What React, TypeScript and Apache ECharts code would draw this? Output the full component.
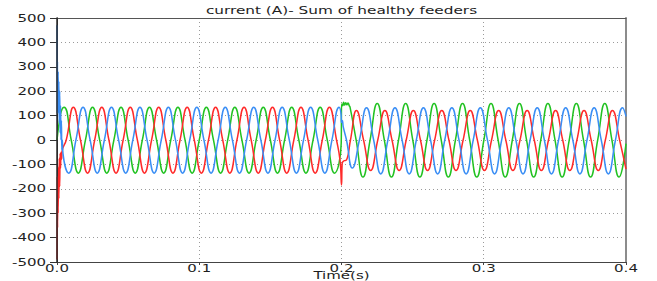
import React, { useEffect, useRef } from 'react';
import * as echarts from 'echarts';

const titleText = 'current (A)- Sum of healthy feeders';
const xAxisName = 'Time(s)';
const yTicks = [-500, -400, -300, -200, -100, 0, 100, 200, 300, 400, 500];
const xTicks = [0, 0.1, 0.2, 0.3, 0.4];

const redData = [
  [0, -490], [0.0002, -150], [0.0004, -360], [0.0006, -160], [0.0008, -300], [0.0011, -110], [0.0013, -240],
  [0.0016, -75], [0.0019, -190], [0.0022, -55], [0.0025, -115], [0.0028, -50], [0.0032, -80], [0.0036, -45],
  [0.0065, 0], [0.0115, 134], [0.0165, 0], [0.0215, -136],
  [0.0265, 0], [0.0315, 134], [0.0365, 0], [0.0415, -136],
  [0.0465, 0], [0.0515, 134], [0.0565, 0], [0.0615, -136],
  [0.0665, 0], [0.0715, 134], [0.0765, 0], [0.0815, -136],
  [0.0865, 0], [0.0915, 134], [0.0965, 0], [0.1015, -136],
  [0.1065, 0], [0.1115, 134], [0.1165, 0], [0.1215, -136],
  [0.1265, 0], [0.1315, 134], [0.1365, 0], [0.1415, -136],
  [0.1465, 0], [0.1515, 134], [0.1565, 0], [0.1615, -136],
  [0.1665, 0], [0.1715, 134], [0.1765, 0], [0.1815, -136],
  [0.1865, 0], [0.1915, 134], [0.1965, 0],
  [0.199, -85], [0.2, -184], [0.2005, -95], [0.2018, -85], [0.2035, -82],
  [0.2063, 0], [0.2105, 121], [0.2155, 0], [0.2205, -125],
  [0.2255, 0], [0.2305, 121], [0.2355, 0], [0.2405, -125],
  [0.2455, 0], [0.2505, 121], [0.2555, 0], [0.2605, -125],
  [0.2655, 0], [0.2705, 121], [0.2755, 0], [0.2805, -125],
  [0.2855, 0], [0.2905, 121], [0.2955, 0], [0.3005, -125],
  [0.3055, 0], [0.3105, 121], [0.3155, 0], [0.3205, -125],
  [0.3255, 0], [0.3305, 121], [0.3355, 0], [0.3405, -125],
  [0.3455, 0], [0.3505, 121], [0.3555, 0], [0.3605, -125],
  [0.3655, 0], [0.3705, 121], [0.3755, 0], [0.3805, -125],
  [0.3855, 0], [0.3905, 121], [0.3955, 0], [0.4, -119],
];

const greenData = [
  [0, 0], [0.0015, 70], [0.003, 118], [0.005, 134], [0.01, 0], [0.015, -136],
  [0.02, 0], [0.025, 134], [0.03, 0], [0.035, -136],
  [0.04, 0], [0.045, 134], [0.05, 0], [0.055, -136],
  [0.06, 0], [0.065, 134], [0.07, 0], [0.075, -136],
  [0.08, 0], [0.085, 134], [0.09, 0], [0.095, -136],
  [0.1, 0], [0.105, 134], [0.11, 0], [0.115, -136],
  [0.12, 0], [0.125, 134], [0.13, 0], [0.135, -136],
  [0.14, 0], [0.145, 134], [0.15, 0], [0.155, -136],
  [0.16, 0], [0.165, 134], [0.17, 0], [0.175, -136],
  [0.18, 0], [0.185, 134], [0.19, 0], [0.195, -136],
  [0.1998, -12], [0.2001, 148], [0.2008, 140], [0.2015, 155], [0.2022, 143], [0.203, 153],
  [0.2038, 144], [0.2046, 152], [0.2054, 141], [0.206, 135],
  [0.2103, 0], [0.2151, -152], [0.2201, 0], [0.2251, 150],
  [0.2301, 0], [0.2351, -152], [0.2401, 0], [0.2451, 150],
  [0.2501, 0], [0.2551, -152], [0.2601, 0], [0.2651, 150],
  [0.2701, 0], [0.2751, -152], [0.2801, 0], [0.2851, 150],
  [0.2901, 0], [0.2951, -152], [0.3001, 0], [0.3051, 150],
  [0.3101, 0], [0.3151, -152], [0.3201, 0], [0.3251, 150],
  [0.3301, 0], [0.3351, -152], [0.3401, 0], [0.3451, 150],
  [0.3501, 0], [0.3551, -152], [0.3601, 0], [0.3651, 150],
  [0.3701, 0], [0.3751, -152], [0.3801, 0], [0.3851, 150],
  [0.3901, 0], [0.3951, -152], [0.4, -15],
];

const blueData = [
  [0, 470], [0.0002, 110], [0.0003, 320], [0.0006, 130], [0.0008, 280], [0.0011, 110], [0.0013, 240],
  [0.0016, 70], [0.0019, 200], [0.0022, 30], [0.0025, 140], [0.0028, 0], [0.0031, 80], [0.0034, -40],
  [0.0037, 0], [0.0042, -55],
  [0.0083, -136], [0.0133, 0], [0.0183, 134], [0.0233, 0],
  [0.0283, -136], [0.0333, 0], [0.0383, 134], [0.0433, 0],
  [0.0483, -136], [0.0533, 0], [0.0583, 134], [0.0633, 0],
  [0.0683, -136], [0.0733, 0], [0.0783, 134], [0.0833, 0],
  [0.0883, -136], [0.0933, 0], [0.0983, 134], [0.1033, 0],
  [0.1083, -136], [0.1133, 0], [0.1183, 134], [0.1233, 0],
  [0.1283, -136], [0.1333, 0], [0.1383, 134], [0.1433, 0],
  [0.1483, -136], [0.1533, 0], [0.1583, 134], [0.1633, 0],
  [0.1683, -136], [0.1733, 0], [0.1783, 134], [0.1833, 0],
  [0.1883, -136], [0.1933, 0], [0.1983, 134],
  [0.1997, 105], [0.2, 72], [0.2006, 80], [0.2012, 55], [0.2035, 0], [0.2076, -115],
  [0.2126, 0], [0.2176, 132], [0.2226, 0],
  [0.2276, -139], [0.2326, 0], [0.2376, 132], [0.2426, 0],
  [0.2476, -139], [0.2526, 0], [0.2576, 132], [0.2626, 0],
  [0.2676, -139], [0.2726, 0], [0.2776, 132], [0.2826, 0],
  [0.2876, -139], [0.2926, 0], [0.2976, 132], [0.3026, 0],
  [0.3076, -139], [0.3126, 0], [0.3176, 132], [0.3226, 0],
  [0.3276, -139], [0.3326, 0], [0.3376, 132], [0.3426, 0],
  [0.3476, -139], [0.3526, 0], [0.3576, 132], [0.3626, 0],
  [0.3676, -139], [0.3726, 0], [0.3776, 132], [0.3826, 0],
  [0.3876, -139], [0.3926, 0], [0.3976, 132], [0.4, 97],
];

const FONT = 'DejaVu Sans';
const TEXT_COLOR = '#1e1e1e';
const STRETCH = 1.5;

export default function App() {
  const ref = useRef<HTMLDivElement>(null);

  useEffect(() => {
    if (!ref.current) return;
    const chart = echarts.init(ref.current, null, { renderer: 'svg' });
    const dotted = { color: '#9a9a9a', width: 1, type: [1, 3] as any };
    const hiddenAxisParts = {
      axisTick: { show: false },
      axisLabel: { show: false },
      splitLine: { show: false },
    };
    const option: any = {
      animation: false,
      backgroundColor: '#ffffff',
      grid: { left: 57, right: 31, top: 18, bottom: 19, containLabel: false },
      xAxis: [
        {
          type: 'value', min: 0, max: 0.4, interval: 0.1, position: 'bottom',
          axisLine: { show: true, onZero: false, lineStyle: { color: '#444', width: 1 } },
          axisTick: { show: true, length: 3, lineStyle: { color: '#444' } },
          axisLabel: { show: false },
          splitLine: { show: true, lineStyle: dotted },
        },
        {
          type: 'value', min: 0, max: 0.4, position: 'top',
          axisLine: { show: true, onZero: false, lineStyle: { color: '#555', width: 1 } },
          ...hiddenAxisParts,
        },
      ],
      yAxis: [
        {
          type: 'value', min: -500, max: 500, interval: 100, position: 'left',
          axisLine: { show: true, onZero: false, lineStyle: { color: '#333', width: 1 } },
          axisTick: { show: true, length: 7, lineStyle: { color: '#333' } },
          axisLabel: { show: false },
          splitLine: { show: true, lineStyle: dotted },
        },
        {
          type: 'value', min: -500, max: 500, position: 'right',
          axisLine: { show: true, onZero: false, lineStyle: { color: '#8c8c8c', width: 2 } },
          ...hiddenAxisParts,
        },
        {
          type: 'value', min: -500, max: 500, position: 'left', z: 5,
          axisLine: { show: true, onZero: false, lineStyle: { color: '#2a2a2a', width: 1.5 } },
          ...hiddenAxisParts,
        },
      ],
      series: [
        { name: 'green', type: 'line', data: greenData, showSymbol: false, smooth: true, lineStyle: { color: '#22c222', width: 1.5 }, itemStyle: { color: '#22c222' } },
        { name: 'red', type: 'line', data: redData, showSymbol: false, smooth: true, lineStyle: { color: '#ff2a2a', width: 1.5 }, itemStyle: { color: '#ff2a2a' } },
        { name: 'blue', type: 'line', data: blueData, showSymbol: false, smooth: true, lineStyle: { color: '#3a8ef5', width: 1.5 }, itemStyle: { color: '#3a8ef5' } },
      ],
    };
    chart.setOption(option);

    const graphics: any[] = [];
    const bottom = chart.convertToPixel({ xAxisIndex: 0, yAxisIndex: 0 }, [0, -500]) as number[];
    const top = chart.convertToPixel({ xAxisIndex: 0, yAxisIndex: 0 }, [0, 500]) as number[];
    const mid = chart.convertToPixel({ xAxisIndex: 0, yAxisIndex: 0 }, [0.2, 0]) as number[];

    yTicks.forEach((v) => {
      const p = chart.convertToPixel({ xAxisIndex: 0, yAxisIndex: 0 }, [0, v]) as number[];
      graphics.push({
        type: 'text', x: p[0] - 11, y: p[1], scaleX: STRETCH, z: 10,
        style: { text: String(v), fontSize: 10, fontFamily: FONT, fill: TEXT_COLOR, align: 'right', verticalAlign: 'middle' },
      });
    });
    xTicks.forEach((v) => {
      const p = chart.convertToPixel({ xAxisIndex: 0, yAxisIndex: 0 }, [v, -500]) as number[];
      graphics.push({
        type: 'text', x: p[0], y: p[1] + 6, scaleX: STRETCH, z: 10,
        style: { text: v.toFixed(1), fontSize: 10, fontFamily: FONT, fill: TEXT_COLOR, align: 'center', verticalAlign: 'middle' },
      });
    });
    graphics.push({
      type: 'text', x: mid[0], y: bottom[1] + 13.5, scaleX: STRETCH, z: 10,
      style: { text: xAxisName, fontSize: 10, fontFamily: FONT, fill: TEXT_COLOR, align: 'center', verticalAlign: 'middle' },
    });
    graphics.push({
      type: 'text', x: mid[0], y: top[1] - 7, scaleX: 1.53, z: 10,
      style: { text: titleText, fontSize: 10, fontFamily: FONT, fill: TEXT_COLOR, align: 'center', verticalAlign: 'middle' },
    });
    chart.setOption({ graphic: graphics });

    return () => chart.dispose();
  }, []);

  return (
    <div
      ref={ref}
      style={{ position: 'absolute', left: 0, top: 0, width: 657, height: 281 }}
    />
  );
}
